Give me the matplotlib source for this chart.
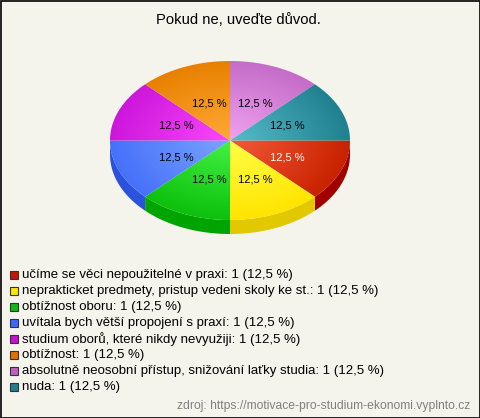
import numpy as np
import matplotlib
matplotlib.use("Agg")
import matplotlib.pyplot as plt
from matplotlib.patches import Polygon, Rectangle

plt.rcParams['font.family'] = ['Liberation Sans', 'DejaVu Sans']

title = "Pokud ne, uveďte důvod."
labels = ["učíme se věci nepoužitelné v praxi",
          "neprakticket predmety, pristup vedeni skoly ke st.",
          "obtížnost oboru",
          "uvítala bych větší propojení s praxí",
          "studium oborů, které nikdy nevyužiji",
          "obtížnost",
          "absolutně neosobní přístup, snižování laťky studia",
          "nuda"]
counts = [1, 1, 1, 1, 1, 1, 1, 1]
source = "zdroj: https://motivace-pro-studium-ekonomi.vyplnto.cz"

# top face: centre colour, rim colour; side colour; legend colour
c_center = ["#f45a38", "#ffff48", "#44f244", "#7aa4ff", "#fb48fb", "#ffaa38", "#f0a2f0", "#56bccc"]
c_rim = ["#c82200", "#ffe400", "#0cc00c", "#4670fa", "#cc16dc", "#e88000", "#c46cc8", "#20808f"]
c_side = ["#a00000", "#e2c800", "#00a400", "#2a52dc", "#a000b0", "#c06000", "#a050a8", "#106070"]
c_leg = ["#c01800", "#ffe800", "#10b810", "#4068ff", "#c810d0", "#e07000", "#c060c0", "#208090"]
lab_col = ["white", "black", "black", "black", "black", "black", "black", "black"]

W, H = 480, 418
fig = plt.figure(figsize=(W / 100, H / 100), dpi=100)
fig.patch.set_facecolor("#f5f4ec")
ax = fig.add_axes([0, 0, 1, 1])
ax.set_xlim(0, W)
ax.set_ylim(H, 0)
ax.axis("off")
ax.add_patch(Rectangle((0.5, 0.5), W - 1, H - 1, fill=False, edgecolor="black", lw=1.2))

cx, cy, rx, ry, depth = 230, 140.5, 120, 79.5, 14

total = sum(counts)
fracs = np.array(counts) / total
starts = np.concatenate([[0], np.cumsum(fracs)[:-1]]) * 2 * np.pi
ends = np.cumsum(fracs) * 2 * np.pi

# sides (front half only: angles 0..pi, screen y downward)
for i in range(len(counts)):
    a0, a1 = starts[i], min(ends[i], np.pi)
    if a0 >= np.pi:
        continue
    t = np.linspace(a0, a1, 40)
    top = np.column_stack([cx + rx * np.cos(t), cy + ry * np.sin(t)])
    bot = top[::-1] + [0, depth]
    ax.add_patch(Polygon(np.vstack([top, bot]), closed=True, facecolor=c_side[i], edgecolor="none"))

# top faces with radial gradient
yy, xx = np.mgrid[0:H, 0:W] + 0.5
r = np.clip(np.sqrt(((xx - cx) / rx) ** 2 + ((yy - cy) / ry) ** 2), 0, 1)[..., None]
for i in range(len(counts)):
    t = np.linspace(starts[i], ends[i], 60)
    pts = np.vstack([[cx, cy], np.column_stack([cx + rx * np.cos(t), cy + ry * np.sin(t)])])
    poly = Polygon(pts, closed=True, facecolor="none", edgecolor="none")
    ax.add_patch(poly)
    c0 = np.array(matplotlib.colors.to_rgb(c_center[i]))
    c1 = np.array(matplotlib.colors.to_rgb(c_rim[i]))
    img = c0 * (1 - r) + c1 * r
    im = ax.imshow(img, extent=(0, W, H, 0), interpolation="bilinear", zorder=1)
    im.set_clip_path(poly)
    mid = (starts[i] + ends[i]) / 2
    ax.text(cx + 0.5 * rx * np.cos(mid) + 2, cy + 0.52 * ry * np.sin(mid) + 1,
            "%s %%" % ("%.1f" % (fracs[i] * 100)).replace(".", ","),
            ha="center", va="center", fontsize=8, color=lab_col[i], zorder=3)

ax.set_xlim(0, W)
ax.set_ylim(H, 0)

ax.text(238, 20, title, ha="center", va="center", fontsize=10.6, color="black")

# legend
for i, lab in enumerate(labels):
    y = 275 + i * 16
    ax.add_patch(Rectangle((9.5, y - 4), 8, 8, facecolor=c_leg[i], edgecolor="#333333", lw=0.8, zorder=3))
    pct = ("%.1f" % (fracs[i] * 100)).replace(".", ",")
    ax.text(22, y, "%s: %d (%s %%)" % (lab, counts[i], pct), ha="left", va="center",
            fontsize=9.5, color="black")

ax.text(470, 406, source, ha="right", va="center", fontsize=8.7, color="#808080")

fig.savefig("out.png", dpi=100, facecolor=fig.get_facecolor())
